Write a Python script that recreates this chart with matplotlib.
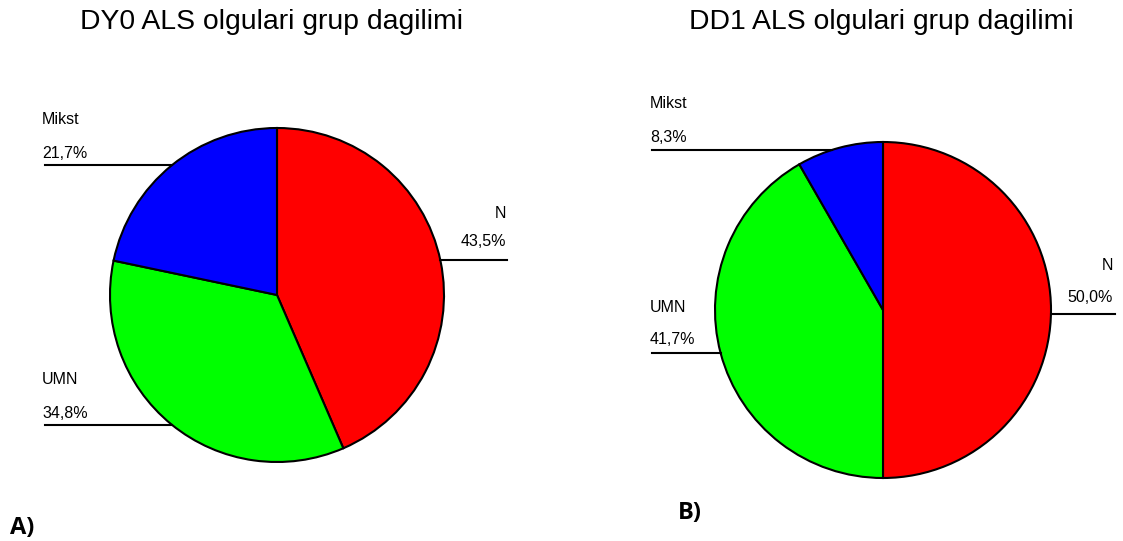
import numpy as np
import matplotlib.pyplot as plt

plt.rcParams['font.family'] = ['Liberation Sans', 'DejaVu Sans']

# data
groups = ['N', 'UMN', 'Mikst']
dy0_pct = [43.5, 34.8, 21.7]
dd1_pct = [50.0, 41.7, 8.3]
colors = ['#ff0000', '#00ff00', '#0000ff']
titles = ['DY0 ALS olgulari grup dagilimi', 'DD1 ALS olgulari grup dagilimi']
panel_tags = ['A)', 'B)']

W, H = 1123, 541
fig = plt.figure(figsize=(W / 100, H / 100), dpi=100)
ax = fig.add_axes([0, 0, 1, 1])

# pie layout in pixel coords (y measured from top)
pies = [
    dict(vals=dy0_pct, cx=277, cy=295, r=167, title_x=272, tag_pos=(10, 528),
         # label: (name x, align, name y, pct y, line y, line far x)
         labels={'N': (506, 'right', 214, 242, 260, 507),
                 'UMN': (42, 'left', 380, 413, 425, 45),
                 'Mikst': (42, 'left', 119, 153, 165, 45)}),
    dict(vals=dd1_pct, cx=883, cy=310, r=168, title_x=881, tag_pos=(678, 513),
         labels={'N': (1113, 'right', 265, 297, 314, 1115),
                 'UMN': (650, 'left', 307, 340, 353, 652),
                 'Mikst': (650, 'left', 103, 138, 150, 652)}),
]

for p, title, tag in zip(pies, titles, panel_tags):
    cx, cy, r = p['cx'], H - p['cy'], p['r']
    ax.pie(p['vals'], colors=colors, startangle=90, counterclock=False,
           center=(cx, cy), radius=r,
           wedgeprops=dict(edgecolor='black', linewidth=1.5))
    ax.text(p['title_x'], H - 22, title, ha='center', va='center', fontsize=20.4)
    tx, ty = p['tag_pos']
    ax.text(tx, H - ty, tag, ha='left', va='center', fontsize=17,
            fontweight='bold', family=['Open Sans', 'DejaVu Sans'])
    for g, v in zip(groups, p['vals']):
        x, align, ny, py, ly, fx = p['labels'][g]
        ax.text(x, H - ny, g, ha=align, va='center', fontsize=11.5)
        ax.text(x, H - py, f'{v:.1f}%'.replace('.', ','), ha=align,
                va='center', fontsize=11.5)
        yl = H - ly
        # leader line runs from the label to the pie edge
        dx = np.sqrt(max(r ** 2 - (yl - cy) ** 2, 0))
        edge = cx + dx if align == 'right' else cx - dx
        ax.plot([fx, edge], [yl, yl], color='black', lw=1.5)

ax.set_xlim(0, W)
ax.set_ylim(0, H)
ax.set_aspect('auto')
ax.axis('off')

fig.savefig('out.png', dpi=100)
